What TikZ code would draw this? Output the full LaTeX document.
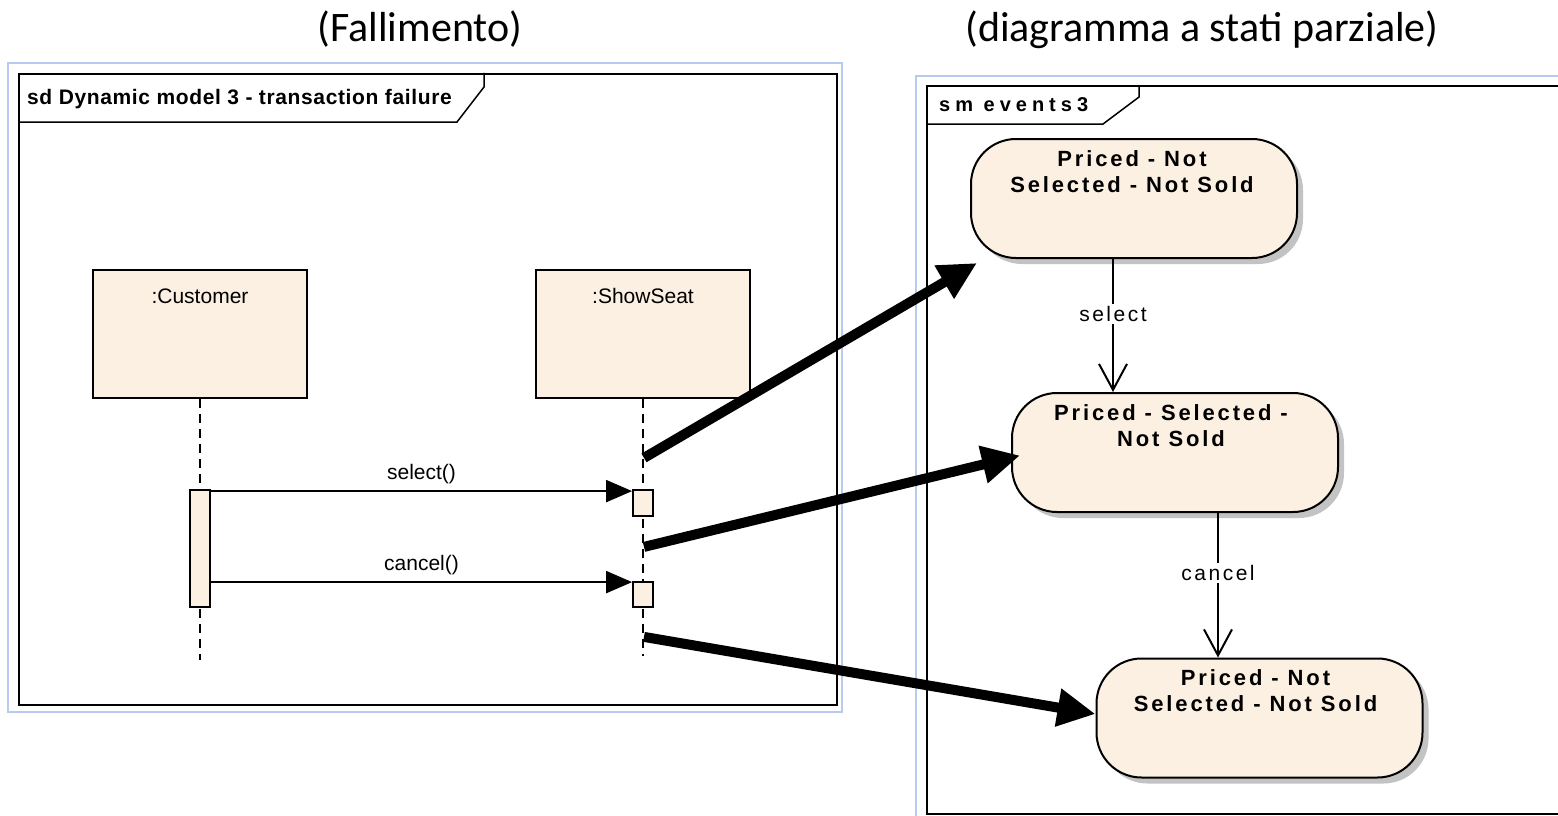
\documentclass[tikz,border=0pt]{standalone}
\usepackage{fontspec}
\setmainfont{Liberation Sans}
\newfontfamily\headfont{Carlito}
\newfontfamily\statefont{Liberation Sans}[LetterSpace=13]
\newfontfamily\tabfont{Liberation Sans}[LetterSpace=25]
\newfontfamily\sdtabfont{Liberation Sans}[LetterSpace=3]
\newfontfamily\labelfont{Liberation Sans}[LetterSpace=12]
\usetikzlibrary{arrows.meta,shadows,calc}

\definecolor{boxfill}{RGB}{251,240,225}
\definecolor{haloblue}{RGB}{185,202,240}
\definecolor{shadowgray}{RGB}{195,195,195}

\newcommand\fsz[1]{\fontsize{#1}{#1}\selectfont}

\tikzset{
  frameline/.style={draw=black, line width=2pt},
  framehalo/.style={draw=haloblue, line width=1.3pt},
  lifebox/.style={draw, line width=1.8pt, fill=boxfill, minimum width=214pt,
    minimum height=128pt, inner sep=0pt},
  objname/.style={font=\fsz{21}, inner sep=0pt, anchor=base},
  actbar/.style={draw, line width=1.8pt, fill=boxfill, minimum width=20pt, inner sep=0pt},
  lifeline/.style={line width=1.6pt, dash pattern=on 9pt off 6pt},
  msg/.style={line width=2pt, -{Triangle[length=26pt,width=22pt]}},
  msglabel/.style={font=\fsz{21}, inner sep=0pt, anchor=base},
  state/.style={draw, line width=2pt, fill=boxfill, rounded corners=45pt,
    minimum width=326pt, minimum height=119pt, inner sep=0pt,
    drop shadow={shadow xshift=6pt, shadow yshift=-6pt, fill=shadowgray, opacity=1}},
  statename/.style={font=\statefont\bfseries\fontsize{22}{26}\selectfont,
    align=center, inner sep=0pt, anchor=north},
  trans/.style={line width=2pt, -{Straight Barb[length=26pt,width=28pt,line width=2pt]}},
  translabel/.style={font=\labelfont\fsz{21}, fill=white, inner sep=2pt},
  event/.style={line width=10pt, -{Triangle[length=38pt,width=36pt]}},
  headtext/.style={font=\headfont\fsz{42}, inner sep=0pt, anchor=base},
}

\begin{document}
\begin{tikzpicture}[x=1pt,y=-1pt]
\clip (0,0) rectangle (1558,816);
\fill[white] (0,0) rectangle (1558,816);

% headings
\node[headtext] (hseq) at (420,42) {(Fallimento)};
\node[headtext] (hsm) at (1202,42) {(diagramma a stati parziale)};

% ---------- sequence diagram frame ----------
\draw[framehalo] (8,63) rectangle (842,712);
\node[frameline, minimum width=818pt, minimum height=631pt, inner sep=0pt,
      anchor=north west] (sd) at (18,73) {};
\draw[line width=1.5pt] (sd.north west |- 0,122) -- (457,122) -- (484,87) -- (484,73);
\node[font=\sdtabfont\bfseries\fsz{21}, inner sep=0pt, anchor=base west]
      (sdname) at (27,104) {sd Dynamic model 3 - transaction failure};

% lifelines
\node[lifebox] (cust) at (200,334) {};
\node[lifebox] (seat) at (643,334) {};
\node[objname] (custname) at ($(cust.north)+(0,34)$) {:Customer};
\node[objname] (seatname) at ($(seat.north)+(0,34)$) {:ShowSeat};

\coordinate (custend) at (200,660);
\coordinate (seatend) at (643,656);
\draw[lifeline] (cust.south) -- (custend);
\draw[lifeline] (seat.south) -- (seatend);

\node[actbar, minimum height=117pt] (custact) at (200,548.5) {};
\node[actbar, minimum height=26pt] (seatact1) at (643,503) {};
\node[actbar, minimum height=25pt] (seatact2) at (643,594.5) {};

\draw[msg] ($(custact.north east)+(0,2)$) -- node[msglabel, midway, yshift=12pt] {select()}
           ($(seatact1.north west)+(0,2)$);
\draw[msg] ($(custact.east |- seatact2.north)+(0,1)$) -- node[msglabel, midway, yshift=12pt] {cancel()}
           ($(seatact2.north west)+(0,1)$);

% ---------- state machine frame ----------
\draw[framehalo] (916,76) rectangle (1575,830);
\node[frameline, minimum width=660pt, minimum height=728pt, inner sep=0pt,
      anchor=north west] (sm) at (926,85) {};
\draw[line width=1.5pt] (sm.north west |- 0,124) -- (1103,124) -- (1139,97) -- (1139,85);
\node[font=\tabfont\bfseries\fsz{20}, inner sep=0pt, anchor=base west]
      (smname) at (939,111) {sm events3};

\node[state] (s1) at (1134,198.5) {};
\node[state] (s2) at (1175,452.5) {};
\node[state] (s3) at (1259.5,718) {};
\node[statename] (s1name) at ($(s1.north)+(-2,12)$) {Priced - Not\\Selected - Not Sold};
\node[statename] (s2name) at ($(s2.north)+(-4,12)$) {Priced - Selected -\\Not Sold};
\node[statename] (s3name) at ($(s3.north)+(-4,12)$) {Priced - Not\\Selected - Not Sold};

\coordinate (selx) at (1113,300);
\coordinate (canx) at (1218,600);
\draw[trans] (s1.south -| selx) -- node[translabel, pos=0.415] {select} (s2.north -| selx);
\draw[trans] (s2.south -| canx) -- node[translabel, pos=0.415] {cancel} (s3.north -| canx);

% ---------- events mapped onto states ----------
\coordinate (ev1) at ($(seat.south)+(1,59)$);
\coordinate (ev2) at ($(seat.south)+(1,148)$);
\coordinate (ev3) at ($(seat.south)+(1,238)$);
\draw[event] (ev1) -- ($(s1.south west)+(7,4)$);
\draw[event] (ev2) -- ($(s2.west)+(9,3)$);
\draw[event] (ev3) -- ($(s3.west)+(0,-4)$);
\end{tikzpicture}
\end{document}
